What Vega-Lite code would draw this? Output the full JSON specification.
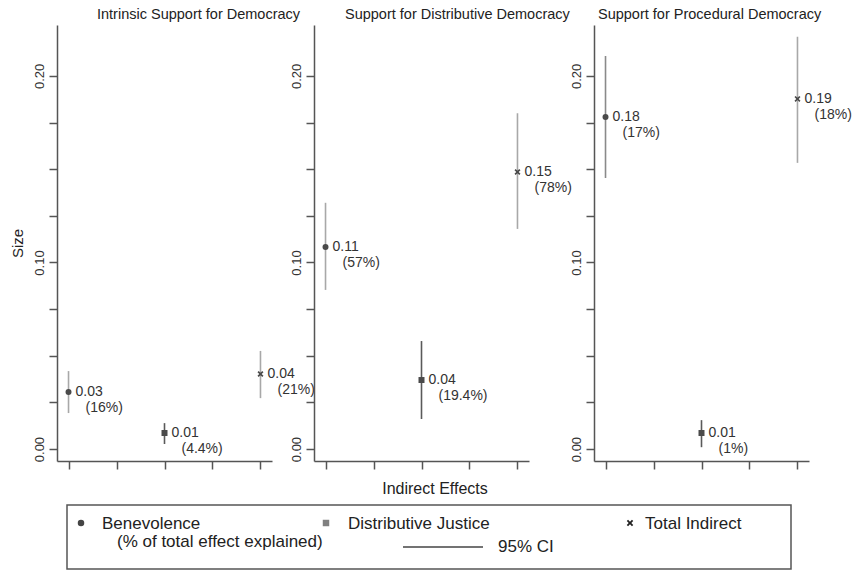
{
  "$schema": "https://vega.github.io/schema/vega-lite/v6.json",
  "background": "white",
  "padding": {"left": 10, "top": 6, "right": 0, "bottom": 0},
  "config": {
    "font": "Liberation Sans",
    "view": {"stroke": null},
    "axis": {"grid": false, "domainColor": "#555555", "domainWidth": 1.5, "tickColor": "#555555", "tickWidth": 1.5, "tickSize": 8, "labelColor": "#333333", "titleColor": "#222222", "labelFont": "Liberation Sans", "titleFont": "Liberation Sans"},
    "title": {"font": "Liberation Sans", "fontWeight": "normal", "color": "#222222"},
    "text": {"font": "Liberation Sans"}
  },
  "datasets": {
    "effects": [
      {"panel": "Intrinsic", "series": "Benevolence", "pos": 1, "est": 0.0306, "lo": 0.0193, "hi": 0.0418, "value": "0.03", "pct": "(16%)"},
      {"panel": "Intrinsic", "series": "Distributive Justice", "pos": 3, "est": 0.0086, "lo": 0.0027, "hi": 0.0139, "value": "0.01", "pct": "(4.4%)"},
      {"panel": "Intrinsic", "series": "Total Indirect", "pos": 5, "est": 0.0402, "lo": 0.0273, "hi": 0.0526, "value": "0.04", "pct": "(21%)"},
      {"panel": "Distributive", "series": "Benevolence", "pos": 1, "est": 0.1083, "lo": 0.0853, "hi": 0.132, "value": "0.11", "pct": "(57%)"},
      {"panel": "Distributive", "series": "Distributive Justice", "pos": 3, "est": 0.037, "lo": 0.0161, "hi": 0.0579, "value": "0.04", "pct": "(19.4%)"},
      {"panel": "Distributive", "series": "Total Indirect", "pos": 5, "est": 0.1485, "lo": 0.118, "hi": 0.18, "value": "0.15", "pct": "(78%)"},
      {"panel": "Procedural", "series": "Benevolence", "pos": 1, "est": 0.178, "lo": 0.1453, "hi": 0.2107, "value": "0.18", "pct": "(17%)"},
      {"panel": "Procedural", "series": "Distributive Justice", "pos": 3, "est": 0.0086, "lo": 0.001, "hi": 0.0155, "value": "0.01", "pct": "(1%)"},
      {"panel": "Procedural", "series": "Total Indirect", "pos": 5, "est": 0.1877, "lo": 0.1534, "hi": 0.221, "value": "0.19", "pct": "(18%)"}
    ],
    "legendSymbols": [
      {"item": "Benevolence", "lx": 14, "ly": 18},
      {"item": "Distributive Justice", "lx": 259, "ly": 18},
      {"item": "Total Indirect", "lx": 563, "ly": 18}
    ],
    "legendTexts": [
      {"label": "Benevolence", "lx": 35, "ly": 19},
      {"label": "(% of total effect explained)", "lx": 50, "ly": 37},
      {"label": "Distributive Justice", "lx": 281, "ly": 19},
      {"label": "Total Indirect", "lx": 578, "ly": 19},
      {"label": "95% CI", "lx": 431, "ly": 42}
    ],
    "legendLine": [
      {"lx": 336, "lx2": 416, "ly": 42}
    ]
  },
  "resolve": {"scale": {"color": "independent", "shape": "independent", "x": "independent", "y": "independent"}},
  "spacing": 10,
  "vconcat": [
    {
      "hconcat": [
        {
          "width": 215, "height": 436,
          "title": {"text": "Intrinsic Support for Democracy", "anchor": "start", "frame": "group", "dx": 40, "fontSize": 14.5, "offset": 3},
          "data": {"name": "effects"},
          "transform": [{"filter": "datum.panel === 'Intrinsic'"}],
          "encoding": {
            "x": {"field": "pos", "type": "quantitative", "scale": {"domain": [0.76, 5.24], "nice": false, "zero": false}, "axis": {"values": [1, 2, 3, 4, 5], "labels": false, "title": null}},
            "y": {"field": "est", "type": "quantitative", "scale": {"domain": [-0.0064, 0.2273], "nice": false, "zero": false}, "axis": {"values": [0, 0.025, 0.05, 0.075, 0.1, 0.125, 0.15, 0.175, 0.2], "labelExpr": "abs(datum.value*10 - round(datum.value*10)) < 0.001 ? format(datum.value, '.2f') : ''", "labelAngle": -90, "labelAlign": "center", "labelBaseline": "bottom", "labelFontSize": 13, "labelPadding": 3, "title": "Size", "titleFontSize": 15, "titleFontWeight": "normal", "titlePadding": 8}}
          },
          "layer": [
            {"mark": {"type": "rule", "strokeWidth": 1.6}, "encoding": {"y": {"field": "lo", "type": "quantitative"}, "y2": {"field": "hi"}, "color": {"condition": {"test": "datum.panel === 'Procedural' && datum.series === 'Benevolence'", "value": "#8a8a8a"}, "field": "series", "type": "nominal", "scale": {"domain": ["Benevolence", "Distributive Justice", "Total Indirect"], "range": ["#a8a8a8", "#5a5a5a", "#a8a8a8"]}, "legend": null}}},
            {"mark": {"type": "point", "filled": true, "opacity": 1, "color": "#4a4a4a"}, "encoding": {"shape": {"field": "series", "type": "nominal", "scale": {"domain": ["Benevolence", "Distributive Justice", "Total Indirect"], "range": ["circle", "square", "M-1,-0.6L-0.6,-1L0,-0.4L0.6,-1L1,-0.6L0.4,0L1,0.6L0.6,1L0,0.4L-0.6,1L-1,0.6L-0.4,0Z"]}, "legend": null}, "size": {"value": 36}}},
            {"mark": {"type": "text", "align": "left", "baseline": "middle", "dx": 7, "fontSize": 14, "color": "#333333"}, "encoding": {"text": {"field": "value"}}},
            {"mark": {"type": "text", "align": "left", "baseline": "middle", "dx": 17, "dy": 16, "fontSize": 14, "color": "#333333"}, "encoding": {"text": {"field": "pct"}}}
          ]
        },
        {
          "hconcat": [
            {
              "width": 215, "height": 436,
              "title": {"text": "Support for Distributive Democracy", "anchor": "start", "frame": "group", "dx": 31, "fontSize": 14.5, "offset": 3},
              "data": {"name": "effects"},
              "transform": [{"filter": "datum.panel === 'Distributive'"}],
              "encoding": {
                "x": {"field": "pos", "type": "quantitative", "scale": {"domain": [0.76, 5.24], "nice": false, "zero": false}, "axis": {"values": [1, 2, 3, 4, 5], "labels": false, "title": null}},
                "y": {"field": "est", "type": "quantitative", "scale": {"domain": [-0.0064, 0.2273], "nice": false, "zero": false}, "axis": {"values": [0, 0.025, 0.05, 0.075, 0.1, 0.125, 0.15, 0.175, 0.2], "labelExpr": "abs(datum.value*10 - round(datum.value*10)) < 0.001 ? format(datum.value, '.2f') : ''", "labelAngle": -90, "labelAlign": "center", "labelBaseline": "bottom", "labelFontSize": 13, "labelPadding": 3, "title": null}}
              },
              "layer": [
                {"mark": {"type": "rule", "strokeWidth": 1.6}, "encoding": {"y": {"field": "lo", "type": "quantitative"}, "y2": {"field": "hi"}, "color": {"condition": {"test": "datum.panel === 'Procedural' && datum.series === 'Benevolence'", "value": "#8a8a8a"}, "field": "series", "type": "nominal", "scale": {"domain": ["Benevolence", "Distributive Justice", "Total Indirect"], "range": ["#a8a8a8", "#5a5a5a", "#a8a8a8"]}, "legend": null}}},
                {"mark": {"type": "point", "filled": true, "opacity": 1, "color": "#4a4a4a"}, "encoding": {"shape": {"field": "series", "type": "nominal", "scale": {"domain": ["Benevolence", "Distributive Justice", "Total Indirect"], "range": ["circle", "square", "M-1,-0.6L-0.6,-1L0,-0.4L0.6,-1L1,-0.6L0.4,0L1,0.6L0.6,1L0,0.4L-0.6,1L-1,0.6L-0.4,0Z"]}, "legend": null}, "size": {"value": 36}}},
                {"mark": {"type": "text", "align": "left", "baseline": "middle", "dx": 7, "fontSize": 14, "color": "#333333"}, "encoding": {"text": {"field": "value"}}},
                {"mark": {"type": "text", "align": "left", "baseline": "middle", "dx": 17, "dy": 16, "fontSize": 14, "color": "#333333"}, "encoding": {"text": {"field": "pct"}}}
              ]
            },
            {
              "width": 215, "height": 436,
              "title": {"text": "Support for Procedural Democracy", "anchor": "start", "frame": "group", "dx": 4, "fontSize": 14.5, "offset": 3},
              "data": {"name": "effects"},
              "transform": [{"filter": "datum.panel === 'Procedural'"}],
              "encoding": {
                "x": {"field": "pos", "type": "quantitative", "scale": {"domain": [0.76, 5.24], "nice": false, "zero": false}, "axis": {"values": [1, 2, 3, 4, 5], "labels": false, "title": null}},
                "y": {"field": "est", "type": "quantitative", "scale": {"domain": [-0.0064, 0.2273], "nice": false, "zero": false}, "axis": {"values": [0, 0.025, 0.05, 0.075, 0.1, 0.125, 0.15, 0.175, 0.2], "labelExpr": "abs(datum.value*10 - round(datum.value*10)) < 0.001 ? format(datum.value, '.2f') : ''", "labelAngle": -90, "labelAlign": "center", "labelBaseline": "bottom", "labelFontSize": 13, "labelPadding": 3, "title": null}}
              },
              "layer": [
                {"mark": {"type": "rule", "strokeWidth": 1.6}, "encoding": {"y": {"field": "lo", "type": "quantitative"}, "y2": {"field": "hi"}, "color": {"condition": {"test": "datum.panel === 'Procedural' && datum.series === 'Benevolence'", "value": "#8a8a8a"}, "field": "series", "type": "nominal", "scale": {"domain": ["Benevolence", "Distributive Justice", "Total Indirect"], "range": ["#a8a8a8", "#5a5a5a", "#a8a8a8"]}, "legend": null}}},
                {"mark": {"type": "point", "filled": true, "opacity": 1, "color": "#4a4a4a"}, "encoding": {"shape": {"field": "series", "type": "nominal", "scale": {"domain": ["Benevolence", "Distributive Justice", "Total Indirect"], "range": ["circle", "square", "M-1,-0.6L-0.6,-1L0,-0.4L0.6,-1L1,-0.6L0.4,0L1,0.6L0.6,1L0,0.4L-0.6,1L-1,0.6L-0.4,0Z"]}, "legend": null}, "size": {"value": 36}}},
                {"mark": {"type": "text", "align": "left", "baseline": "middle", "dx": 7, "fontSize": 14, "color": "#333333"}, "encoding": {"text": {"field": "value"}}},
                {"mark": {"type": "text", "align": "left", "baseline": "middle", "dx": 17, "dy": 16, "fontSize": 14, "color": "#333333"}, "encoding": {"text": {"field": "pct"}}}
              ]
            }
          ],
          "spacing": 65,
          "bounds": "flush"
        }
      ],
      "spacing": 42,
      "bounds": "flush"
    },
    {
      "hconcat": [
        {
          "width": 10, "height": 64,
          "data": {"values": [{"lx": 0, "ly": 0}]},
          "mark": {"type": "point", "opacity": 0},
          "encoding": {"x": {"field": "lx", "type": "quantitative", "axis": null}, "y": {"field": "ly", "type": "quantitative", "axis": null}}
        },
        {
          "width": 724, "height": 64,
          "view": {"stroke": "#555555", "strokeWidth": 1.5},
          "title": {"text": "Indirect Effects", "anchor": "middle", "dx": 6, "fontSize": 16, "offset": 8},
          "layer": [
            {
              "data": {"name": "legendSymbols"},
              "mark": {"type": "point", "filled": true, "opacity": 1},
              "encoding": {
                "x": {"field": "lx", "type": "quantitative", "scale": {"domain": [0, 724], "nice": false, "zero": false}, "axis": null},
                "y": {"field": "ly", "type": "quantitative", "scale": {"domain": [64, 0], "nice": false, "zero": false}, "axis": null},
                "shape": {"field": "item", "type": "nominal", "scale": {"domain": ["Benevolence", "Distributive Justice", "Total Indirect"], "range": ["circle", "square", "M-1,-0.6L-0.6,-1L0,-0.4L0.6,-1L1,-0.6L0.4,0L1,0.6L0.6,1L0,0.4L-0.6,1L-1,0.6L-0.4,0Z"]}, "legend": null},
                "color": {"field": "item", "type": "nominal", "scale": {"domain": ["Benevolence", "Distributive Justice", "Total Indirect"], "range": ["#444444", "#808080", "#222222"]}, "legend": null},
                "size": {"value": 42}
              }
            },
            {
              "data": {"name": "legendTexts"},
              "mark": {"type": "text", "align": "left", "baseline": "middle", "fontSize": 17, "color": "#222222"},
              "encoding": {
                "x": {"field": "lx", "type": "quantitative"},
                "y": {"field": "ly", "type": "quantitative"},
                "text": {"field": "label"}
              }
            },
            {
              "data": {"name": "legendLine"},
              "mark": {"type": "rule", "strokeWidth": 1.6, "color": "#444444"},
              "encoding": {
                "x": {"field": "lx", "type": "quantitative"},
                "x2": {"field": "lx2"},
                "y": {"field": "ly", "type": "quantitative"}
              }
            }
          ]
        }
      ],
      "spacing": 0,
      "bounds": "flush"
    }
  ]
}
